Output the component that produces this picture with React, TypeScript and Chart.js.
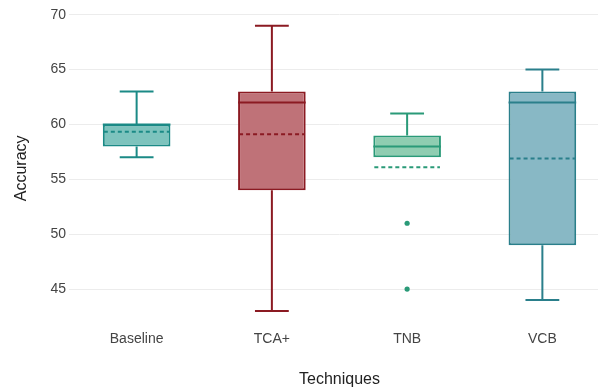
import { useEffect, useRef } from "react";
import { Chart, registerables } from "chart.js";

Chart.register(...registerables);

// Box plot summary for each technique
const techniques = ["Baseline", "TCA+", "TNB", "VCB"];
const whiskerLow = [57, 43, 57, 44];
const quartileLow = [58, 54, 57, 49];
const medians = [60, 62, 58, 62];
const quartileHigh = [60, 63, 59, 63];
const whiskerHigh = [63, 69, 61, 65];
const means = [59.33, 59.1, 56.1, 56.9];

// Points outside the whiskers
const outlierTechnique = ["TNB", "TNB"];
const outlierValues = [51, 45];

const yTicks = [45, 50, 55, 60, 65, 70];

const strokeColors = ["#1b8a86", "#8b1a22", "#2a9a78", "#2a7f8b"];
const fillColors = ["#7dc3bd", "#bf7278", "#8fcdb1", "#88b8c5"];

const FONT = "'Liberation Sans', Arial, Helvetica, sans-serif";

// Draws whiskers, caps, median and dashed mean lines over the floating bars
const boxDetails = {
  id: "boxDetails",
  afterDatasetsDraw(chart: any) {
    const { ctx } = chart;
    const xs = chart.scales.x;
    const ys = chart.scales.y;
    const meta = chart.getDatasetMeta(0);
    ctx.save();
    meta.data.forEach((bar: any, i: number) => {
      const cx = xs.getPixelForValue(i);
      const half = bar.width / 2;
      const cap = half / 2;
      ctx.strokeStyle = strokeColors[i];
      ctx.lineWidth = 2;
      ctx.setLineDash([]);
      ctx.lineCap = "butt";

      const yWHi = ys.getPixelForValue(whiskerHigh[i]);
      const yQHi = ys.getPixelForValue(quartileHigh[i]);
      const yQLo = ys.getPixelForValue(quartileLow[i]);
      const yWLo = ys.getPixelForValue(whiskerLow[i]);

      ctx.beginPath();
      if (whiskerHigh[i] > quartileHigh[i]) {
        ctx.moveTo(cx, yQHi);
        ctx.lineTo(cx, yWHi);
        ctx.moveTo(cx - cap, yWHi);
        ctx.lineTo(cx + cap, yWHi);
      }
      if (whiskerLow[i] < quartileLow[i]) {
        ctx.moveTo(cx, yQLo);
        ctx.lineTo(cx, yWLo);
        ctx.moveTo(cx - cap, yWLo);
        ctx.lineTo(cx + cap, yWLo);
      }
      ctx.stroke();

      const yMed = ys.getPixelForValue(medians[i]);
      ctx.beginPath();
      ctx.moveTo(cx - half, yMed);
      ctx.lineTo(cx + half, yMed);
      ctx.stroke();

      const yMean = ys.getPixelForValue(means[i]);
      ctx.setLineDash([4, 3]);
      ctx.beginPath();
      ctx.moveTo(cx - half + 1, yMean);
      ctx.lineTo(cx + half - 1, yMean);
      ctx.stroke();
    });
    ctx.restore();
  },
};

export default function App() {
  const canvasRef = useRef<HTMLCanvasElement | null>(null);

  useEffect(() => {
    const canvas = canvasRef.current;
    if (!canvas) return;
    const chart = new Chart(canvas, {
      type: "bar",
      data: {
        labels: techniques,
        datasets: [
          {
            type: "bar",
            data: techniques.map((_, i) => [quartileLow[i], quartileHigh[i]]) as any,
            backgroundColor: fillColors,
            borderColor: strokeColors,
            borderWidth: 2,
            borderSkipped: false,
            barPercentage: 0.5,
            categoryPercentage: 1,
          },
          {
            type: "scatter",
            data: outlierTechnique.map((t, i) => ({ x: t, y: outlierValues[i] })) as any,
            backgroundColor: strokeColors[2],
            borderColor: strokeColors[2],
            pointRadius: 2.6,
            pointBorderWidth: 0,
          },
        ],
      },
      options: {
        responsive: false,
        animation: false,
        devicePixelRatio: 1,
        layout: { padding: { top: 10.7, left: 0, right: 0, bottom: 0 } },
        plugins: {
          legend: { display: false },
          tooltip: { enabled: false },
        },
        scales: {
          x: {
            type: "category",
            offset: true,
            grid: { display: false, drawTicks: false, tickLength: 0 },
            border: { display: false },
            ticks: {
              color: "#444",
              padding: 5,
              font: { family: FONT, size: 14 },
            },
            title: {
              display: true,
              text: "Techniques",
              color: "#222",
              font: { family: FONT, size: 16 },
              padding: { top: 0, bottom: 3 },
            },
            afterFit(scale: any) {
              scale.height = 66.7;
            },
          },
          y: {
            type: "linear",
            min: 41.7,
            max: 70.3,
            grid: { color: "#ececec", lineWidth: 1, drawTicks: false, tickLength: 0 },
            border: { display: false },
            ticks: {
              color: "#444",
              padding: 3,
              font: { family: FONT, size: 14 },
            },
            afterBuildTicks(scale: any) {
              scale.ticks = yTicks.map((v) => ({ value: v }));
            },
            title: {
              display: true,
              text: "Accuracy",
              color: "#222",
              font: { family: FONT, size: 16 },
              padding: { top: 12, bottom: 0 },
            },
            afterFit(scale: any) {
              scale.width = 69;
            },
          },
        },
      },
      plugins: [boxDetails],
    } as any);
    return () => chart.destroy();
  }, []);

  return (
    <div
      style={{
        position: "absolute",
        left: 0,
        top: 0,
        width: 598,
        height: 392,
        overflow: "hidden",
        background: "#fff",
      }}
    >
      <canvas ref={canvasRef} width={614} height={392} style={{ display: "block" }} />
    </div>
  );
}
